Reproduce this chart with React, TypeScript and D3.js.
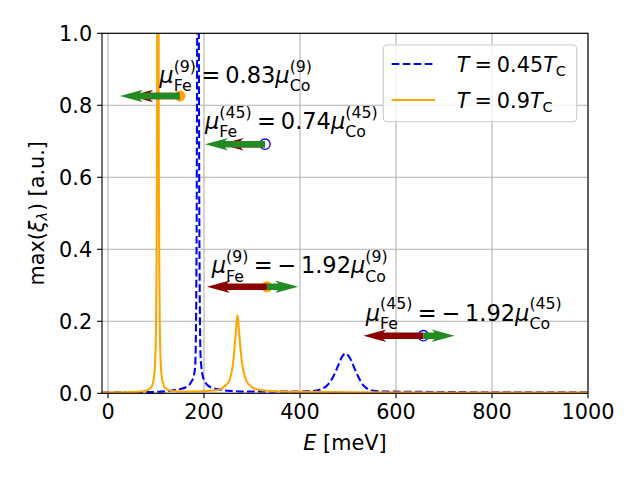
import React, { useEffect, useRef } from "react";
import * as d3 from "d3";

// T = 0.45 Tc (blue, dashed)
const energyLow = [
  -12, 50, 100, 130, 150, 161, 169, 175, 179, 181.5, 183, 184, 185, 186.2, 187, 187.5, 188, 188.8, 190, 191,
  192, 193, 194.5, 197, 201, 207, 215, 226, 250, 290, 350, 400, 420, 435, 445, 455, 463, 470, 476, 482,
  487, 491, 494, 498, 503, 508, 514, 520, 526, 532, 540, 550, 570, 650, 800, 1000,
];
const xiLow = [
  0.002, 0.003, 0.004, 0.007, 0.012, 0.016, 0.023, 0.035, 0.05, 0.074, 0.15, 0.3, 0.6, 1.5, 5, 10, 5, 1.5, 0.6, 0.3,
  0.15, 0.1, 0.074, 0.05, 0.035, 0.023, 0.016, 0.012, 0.007, 0.005, 0.005, 0.005, 0.006, 0.008, 0.012, 0.02, 0.032, 0.048, 0.066, 0.085,
  0.1, 0.108, 0.111, 0.108, 0.1, 0.087, 0.068, 0.05, 0.034, 0.022, 0.013, 0.008, 0.005, 0.004, 0.003, 0.003,
];

// T = 0.9 Tc (orange, solid)
const energyHigh = [
  -12, 30, 60, 80, 89, 93, 96, 98, 100, 101, 102, 103, 103.6, 104, 104.4, 105, 106, 107, 108, 110,
  112, 115, 119, 128, 150, 180, 200, 230, 237, 245, 250, 254, 257, 260, 262, 264, 266, 268, 269.5, 271,
  273, 275, 277, 279, 282, 285, 289, 294, 301, 310, 330, 400, 500, 700, 1000,
];
const xiHigh = [
  0.002, 0.003, 0.004, 0.008, 0.015, 0.026, 0.046, 0.08, 0.18, 0.32, 0.6, 1.5, 5, 9, 5, 1.5, 0.6, 0.32, 0.18, 0.08,
  0.046, 0.026, 0.015, 0.008, 0.005, 0.005, 0.006, 0.009, 0.014, 0.022, 0.029, 0.04, 0.056, 0.079, 0.103, 0.133, 0.165, 0.198, 0.216, 0.205,
  0.172, 0.14, 0.111, 0.087, 0.063, 0.047, 0.033, 0.024, 0.016, 0.011, 0.007, 0.004, 0.003, 0.002, 0.002,
];

const xTicks = [0, 200, 400, 600, 800, 1000];
const yTicks = [0, 0.2, 0.4, 0.6, 0.8, 1.0];

// moment annotations: mode index, mu_Fe / mu_Co, anchor, direction of Co moment
const annMode = ["9", "45", "9", "45"];
const annRatio = [0.83, 0.74, -1.92, -1.92];
const annE = [150, 327, 331, 657];
const annXi = [0.826, 0.692, 0.296, 0.16];
const annCoSign = [-1, -1, 1, 1];
const annSeries = ["high", "low", "high", "low"];
const labelE = [107, 202, 216, 537];
const labelXi = [0.861, 0.734, 0.333, 0.202];

type Run = { text?: string; italic?: boolean; sup?: string; sub?: string; subItalic?: boolean; space?: number };

function drawMath(parent: any, runs: Run[], fs: number) {
  const g = parent.append("g");
  let x = 0;
  const put = (s: string, px: number, py: number, size: number, italic: boolean) => {
    const t = g
      .append("text")
      .attr("x", px)
      .attr("y", py)
      .attr("font-size", size)
      .attr("font-style", italic ? "italic" : "normal")
      .text(s.replace(/ /g, "\u00a0"));
    return (t.node() as SVGTextElement).getComputedTextLength();
  };
  for (const r of runs) {
    if (r.space) {
      x += r.space * fs;
      continue;
    }
    if (r.text) x += put(r.text, x, 0, fs, !!r.italic);
    if (r.sup || r.sub) {
      const s = fs * 0.7;
      let w = 0;
      if (r.sup) w = Math.max(w, put(r.sup, x, r.sub ? -0.5 * fs : -0.42 * fs, s, false));
      if (r.sub) w = Math.max(w, put(r.sub, x, r.sup ? 0.36 * fs : 0.17 * fs, s, !!r.subItalic));
      x += w + 0.04 * fs;
    }
  }
  return { g, width: x };
}

function arrowPoints(x0: number, y0: number, len: number) {
  const L = Math.abs(len);
  const d = Math.sign(len);
  const sw = 3.3, hw = 6.2, headLen = 23, headAxis = 20;
  const pts: [number, number][] = [
    [0, sw], [L - headAxis, sw], [L - headLen, hw], [L, 0],
    [L - headLen, -hw], [L - headAxis, -sw], [0, -sw],
  ];
  return pts.map(([u, v]) => `${x0 + d * u},${y0 + v}`).join(" ");
}

const App: React.FC = () => {
  const ref = useRef<SVGSVGElement>(null);

  useEffect(() => {
    if (!ref.current) return;
    const svg = d3.select(ref.current);
    svg.selectAll("*").remove();

    const left = 102, right = 588, top = 33.3, bottom = 393.3;
    const fs = 20.8;
    const x = d3.scaleLinear().domain([-12.5, 1000]).range([left, right]);
    const y = d3.scaleLinear().domain([0, 1]).range([bottom, top]);

    const root = svg.append("g").attr("font-family", "DejaVu Sans").attr("fill", "#000");

    svg
      .append("defs")
      .append("clipPath")
      .attr("id", "plotclip")
      .append("rect")
      .attr("x", left)
      .attr("y", top)
      .attr("width", right - left)
      .attr("height", bottom - top);

    // grid
    const grid = root.append("g").attr("stroke", "#b0b0b0").attr("stroke-width", 1.1);
    xTicks.forEach((t) => grid.append("line").attr("x1", x(t)).attr("x2", x(t)).attr("y1", top).attr("y2", bottom));
    yTicks.forEach((t) => grid.append("line").attr("x1", left).attr("x2", right).attr("y1", y(t)).attr("y2", y(t)));

    // curves
    const lowPts: [number, number][] = energyLow.map((e, i) => [x(e), y(xiLow[i])]);
    const highPts: [number, number][] = energyHigh.map((e, i) => [x(e), y(xiHigh[i])]);
    const path = d3.line().curve(d3.curveMonotoneX);
    const curves = root.append("g").attr("clip-path", "url(#plotclip)").attr("fill", "none");
    curves
      .append("path")
      .attr("d", path(lowPts))
      .attr("stroke", "#0000ff")
      .attr("stroke-width", 2.08)
      .attr("stroke-dasharray", "7.7,3.3");
    curves.append("path").attr("d", path(highPts)).attr("stroke", "#ffa500").attr("stroke-width", 2.08);

    // markers and moment arrows
    const arrowMax = 60;
    const ann = root.append("g");
    annE.forEach((e, i) => {
      const cx = x(e), cy = y(annXi[i]);
      if (annSeries[i] === "high") {
        ann.append("circle").attr("cx", cx).attr("cy", cy).attr("r", 5.5).attr("fill", "#ffa500");
      } else {
        ann
          .append("circle")
          .attr("cx", cx)
          .attr("cy", cy)
          .attr("r", 5.2)
          .attr("fill", "none")
          .attr("stroke", "#0000ff")
          .attr("stroke-width", 1.3);
      }
      const unit = arrowMax / Math.max(1, Math.abs(annRatio[i]));
      const co = annCoSign[i] * unit;
      const fe = annRatio[i] * co;
      ann.append("polygon").attr("points", arrowPoints(cx, cy, fe)).attr("fill", "#8b0000");
      ann.append("polygon").attr("points", arrowPoints(cx, cy, co)).attr("fill", "#228b22");
    });

    // annotation labels
    const afs = 22.5;
    annE.forEach((_, i) => {
      const m = `(${annMode[i]})`;
      const runs: Run[] = [
        { text: "μ", italic: true, sup: m, sub: "Fe" },
        { space: 0.2 },
        { text: "=" },
        { space: 0.22 },
      ];
      if (annRatio[i] < 0) runs.push({ text: "−" }, { space: 0.2 });
      runs.push({ text: Math.abs(annRatio[i]).toFixed(2) }, { text: "μ", italic: true, sup: m, sub: "Co" });
      const { g } = drawMath(root, runs, afs);
      g.attr("transform", `translate(${x(labelE[i])},${y(labelXi[i])})`);
    });

    // spines
    root
      .append("rect")
      .attr("x", left)
      .attr("y", top)
      .attr("width", right - left)
      .attr("height", bottom - top)
      .attr("fill", "none")
      .attr("stroke", "#000")
      .attr("stroke-width", 1.1);

    // ticks + labels
    const tk = root.append("g");
    xTicks.forEach((t) => {
      tk.append("line").attr("x1", x(t)).attr("x2", x(t)).attr("y1", bottom).attr("y2", bottom + 4.9).attr("stroke", "#000").attr("stroke-width", 1.1);
      tk.append("text").attr("x", x(t)).attr("y", bottom + 25.5).attr("text-anchor", "middle").attr("font-size", fs).text(String(t));
    });
    yTicks.forEach((t) => {
      tk.append("line").attr("x1", left - 4.9).attr("x2", left).attr("y1", y(t)).attr("y2", y(t)).attr("stroke", "#000").attr("stroke-width", 1.1);
      tk.append("text").attr("x", left - 9.8).attr("y", y(t) + 7.6).attr("text-anchor", "end").attr("font-size", fs).text(d3.format(".1f")(t));
    });

    // axis labels
    const xl = drawMath(root, [{ text: "E", italic: true }, { text: " [meV]" }], fs);
    xl.g.attr("transform", `translate(${(left + right) / 2 - xl.width / 2},450)`);
    const yl = drawMath(root, [{ text: "max(" }, { text: "ξ", italic: true, sub: "λ", subItalic: true }, { text: ") [a.u.]" }], fs);
    yl.g.attr("transform", `translate(43.5,${(top + bottom) / 2 + yl.width / 2}) rotate(-90)`);

    // legend
    const lg = root.append("g");
    lg.append("rect")
      .attr("x", 383.3)
      .attr("y", 45)
      .attr("width", 193.4)
      .attr("height", 76.7)
      .attr("rx", 4)
      .attr("fill", "#fff")
      .attr("fill-opacity", 0.8)
      .attr("stroke", "#cccccc")
      .attr("stroke-width", 1.1);
    const entries = [
      { color: "#0000ff", dash: "7.7,3.3", temp: "0.45", yy: 64 },
      { color: "#ffa500", dash: null, temp: "0.9", yy: 100 },
    ];
    entries.forEach((en) => {
      const l = lg
        .append("line")
        .attr("x1", 391.7)
        .attr("x2", 435)
        .attr("y1", en.yy)
        .attr("y2", en.yy)
        .attr("stroke", en.color)
        .attr("stroke-width", 2.08);
      if (en.dash) l.attr("stroke-dasharray", en.dash);
      const t = drawMath(
        lg,
        [{ text: "T", italic: true }, { space: 0.24 }, { text: "=" }, { space: 0.24 }, { text: en.temp }, { text: "T", italic: true, sub: "C" }],
        fs
      );
      t.g.attr("transform", `translate(456.7,${en.yy + 8})`);
    });
  }, []);

  return (
    <svg
      ref={ref}
      width={640}
      height={480}
      style={{ position: "absolute", left: 0, top: 0, background: "#fff" }}
    />
  );
};

export default App;
